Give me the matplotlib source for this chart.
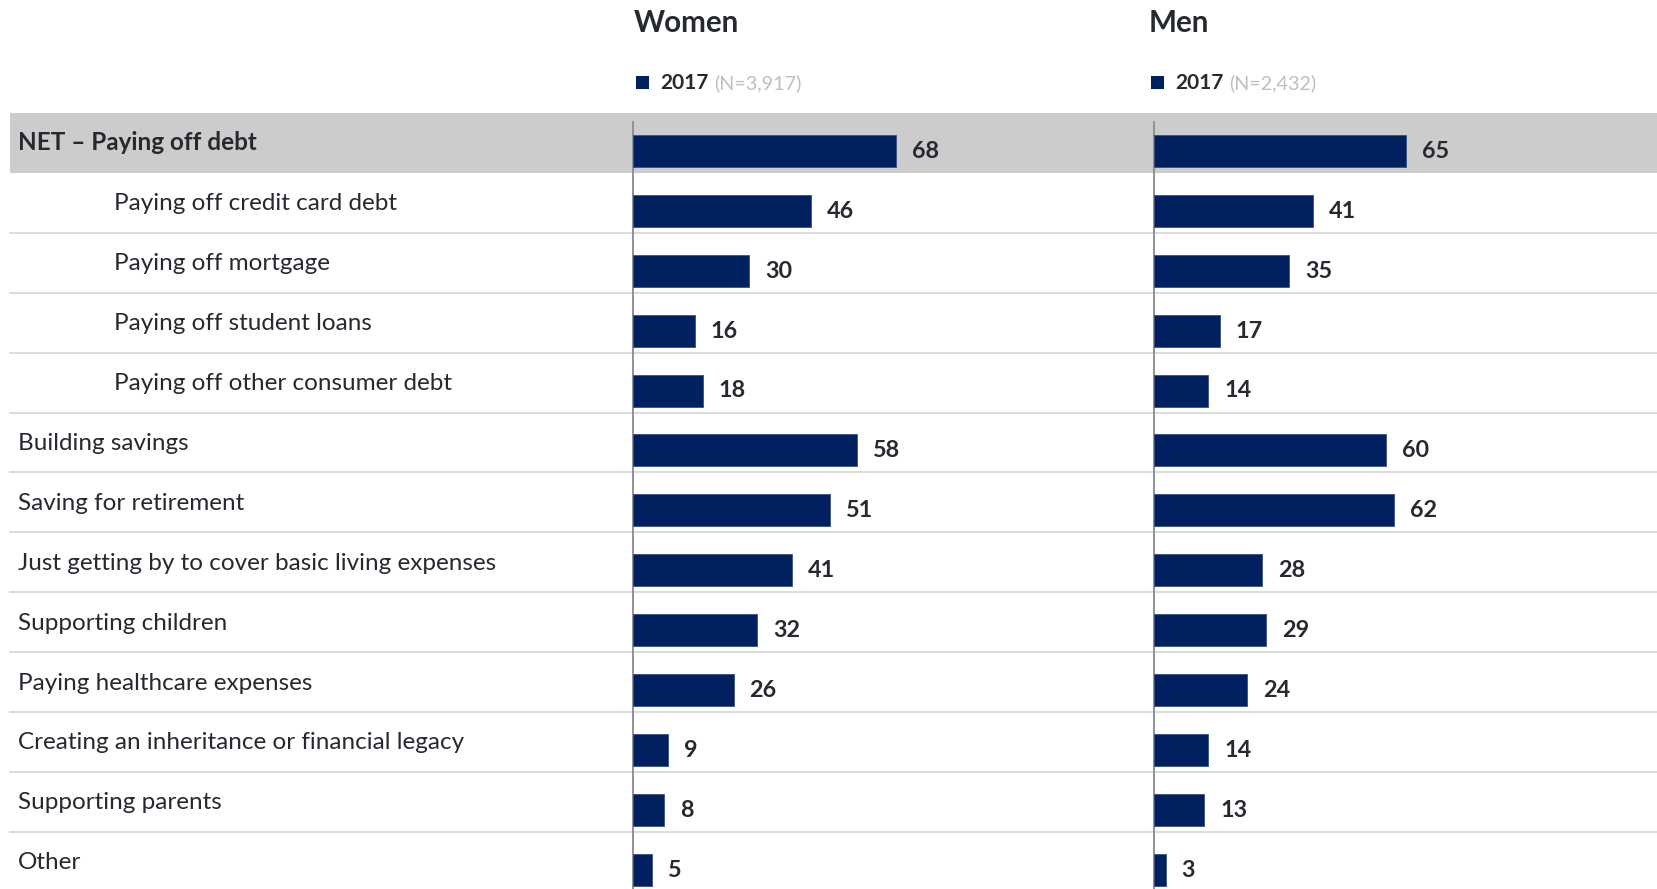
import matplotlib.pyplot as plt

plt.rcParams["font.family"] = ["Lato", "DejaVu Sans"]

categories = [
    "NET \u2013 Paying off debt",
    "Paying off credit card debt",
    "Paying off mortgage",
    "Paying off student loans",
    "Paying off other consumer debt",
    "Building savings",
    "Saving for retirement",
    "Just getting by to cover basic living expenses",
    "Supporting children",
    "Paying healthcare expenses",
    "Creating an inheritance or financial legacy",
    "Supporting parents",
    "Other",
]
indented = [False, True, True, True, True, False, False, False, False, False, False, False, False]
women = [68, 46, 30, 16, 18, 58, 51, 41, 32, 26, 9, 8, 5]
men = [65, 41, 35, 17, 14, 60, 62, 28, 29, 24, 14, 13, 3]
panel_titles = ["Women", "Men"]
legend_year = "2017"
sample_sizes = ["(N=3,917)", "(N=2,432)"]

NAVY = "#002060"
TEXT = "#262a30"
W, H = 1657, 889

fig = plt.figure(figsize=(W / 100, H / 100), dpi=100)

# background layer in pixel coordinates: bands, separators, labels
bg = fig.add_axes([0, 0, 1, 1])
bg.set_xlim(0, W)
bg.set_ylim(H, 0)
bg.axis("off")

top = 113.0
row_h = 59.9
n = len(categories)

bg.fill_between([10, W], top, top + row_h, color="#cccccc", lw=0, zorder=0)
for i in range(1, n):
    yb = top + row_h * (i + 1)
    bg.plot([10, W], [yb, yb], color="#d9d9d9", lw=1.3, zorder=1)

for i, (label, ind) in enumerate(zip(categories, indented)):
    yc = top + row_h * (i + 0.5)
    bg.text(114 if ind else 18, yc + 7.5, label, fontsize=17.5, color=TEXT,
            va="baseline", ha="left",
            fontweight="bold" if i == 0 else "normal")

axis_x = [633, 1154]
header_x = [634, 1149]
for x0, hx, title, nlab in zip(axis_x, header_x, panel_titles, sample_sizes):
    bg.text(hx, 32, title, fontsize=21.3, fontweight="bold", color=TEXT,
            va="baseline", ha="left")
    bg.fill_between([hx + 2, hx + 15], 75.5, 88.5, color=NAVY, lw=0)
    t = bg.text(hx + 26, 89, legend_year, fontsize=15, fontweight="bold",
                color=TEXT, va="baseline", ha="left")
    fig.canvas.draw()
    bb = t.get_window_extent()
    bg.text(hx + 26 + bb.width + 6, 89, nlab, fontsize=14.2, color="#bfbfbf",
            va="baseline", ha="left")
    bg.plot([x0, x0], [121.5, H], color="#8c9099", lw=1.4, zorder=3)

# bar panels
px_per_unit = 3.87
span = 500
rows_visible = (H - top) / row_h
offset = 8 / row_h
for x0, vals in zip(axis_x, [women, men]):
    ax = fig.add_axes([x0 / W, 0, span / W, (H - top) / H])
    ax.set_xlim(0, span / px_per_unit)
    ax.set_ylim(rows_visible - 0.5, -0.5)
    ax.patch.set_alpha(0)
    ax.axis("off")
    ys = [i + offset for i in range(n)]
    ax.barh(ys, vals, height=32 / row_h, color=NAVY, edgecolor="#3a4f80",
            linewidth=0.6, zorder=2)
    for y, v in zip(ys, vals):
        ax.annotate(str(v), (v, y), xytext=(11.5, -5), textcoords="offset points",
                    fontsize=16.8, fontweight="bold", color=TEXT,
                    va="baseline", ha="left")

fig.savefig("out.png", dpi=100)
